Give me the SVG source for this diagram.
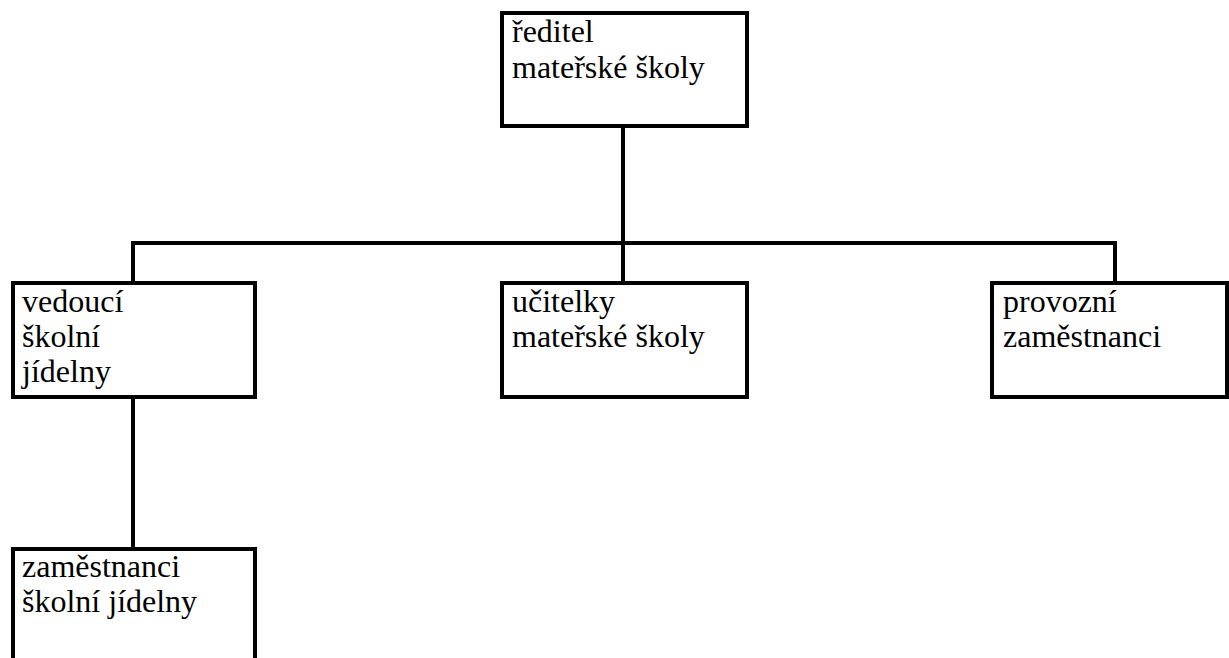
<svg xmlns="http://www.w3.org/2000/svg" width="1229" height="658" viewBox="0 0 1229 658">
<style>
.box{fill:#fff;stroke:#000;stroke-width:4}
.t{font-family:'Times New Roman','Liberation Serif',Times,serif;font-size:32px;fill:#000}
.c{fill:none;stroke:#000;stroke-width:4}
</style>
<rect width="1229" height="658" fill="#fff"/>
<g id="connectors">
<line class="c" x1="623" y1="126" x2="623" y2="283"/>
<line class="c" x1="131" y1="243" x2="1117" y2="243"/>
<line class="c" x1="133" y1="241" x2="133" y2="283"/>
<line class="c" x1="1115" y1="241" x2="1115" y2="283"/>
<line class="c" x1="133" y1="397" x2="133" y2="549"/>
</g>
<g id="reditel">
<rect class="box" x="502" y="13" width="245" height="113"/>
<text class="t" x="512" y="42">ředitel</text>
<text class="t" x="512" y="78">mateřské školy</text>
</g>
<g id="vedouci">
<rect class="box" x="13" y="283" width="242" height="114"/>
<text class="t" x="22" y="312">vedoucí</text>
<text class="t" x="22" y="347">školní</text>
<text class="t" x="22" y="382">jídelny</text>
</g>
<g id="ucitelky">
<rect class="box" x="502" y="283" width="245" height="114"/>
<text class="t" x="512" y="312">učitelky</text>
<text class="t" x="512" y="347">mateřské školy</text>
</g>
<g id="provozni">
<rect class="box" x="992" y="283" width="235" height="114"/>
<text class="t" x="1003" y="312">provozní</text>
<text class="t" x="1003" y="347">zaměstnanci</text>
</g>
<g id="zamestnanci-jidelny">
<rect class="box" x="13" y="549" width="242" height="200"/>
<text class="t" x="22" y="577">zaměstnanci</text>
<text class="t" x="22" y="612">školní jídelny</text>
</g>
</svg>
